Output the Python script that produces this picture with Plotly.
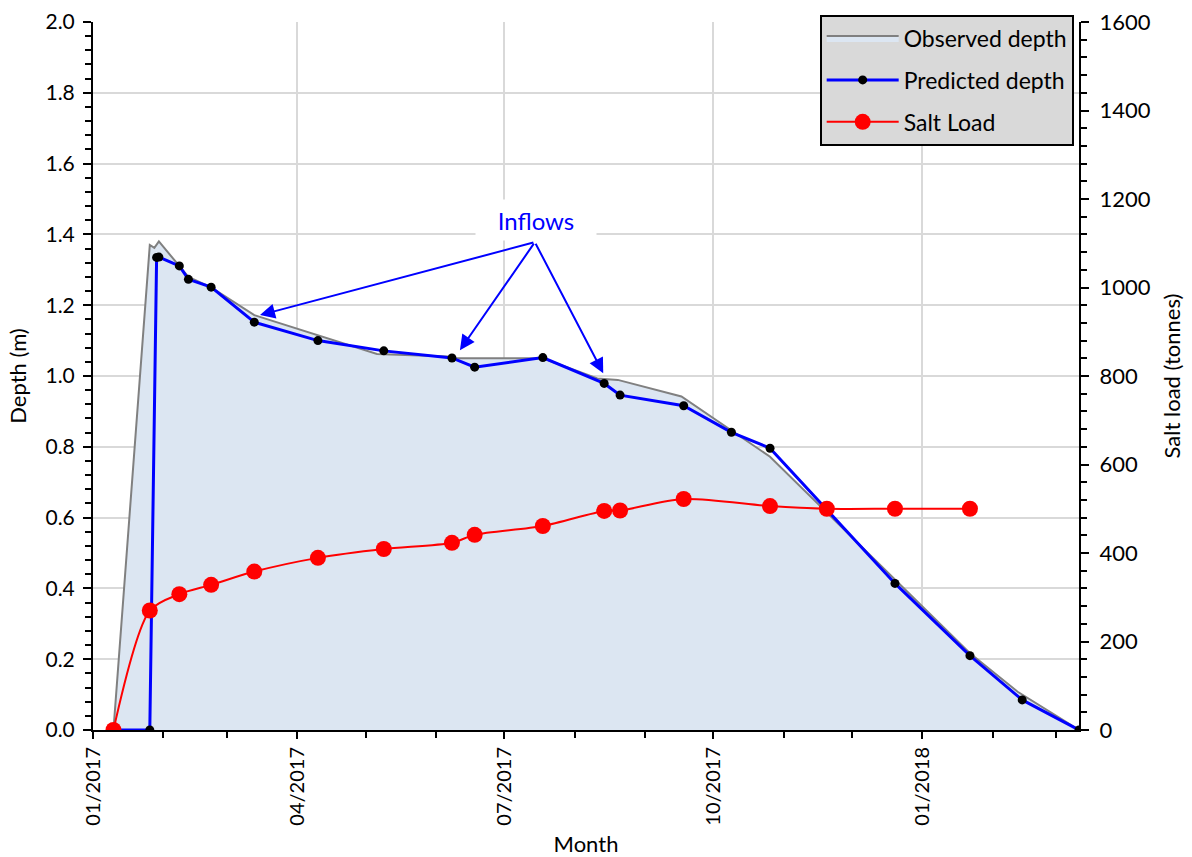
import plotly.graph_objects as go

# Observed water depth (m)
obs_dates = ["2017-01-10", "2017-01-26", "2017-01-28", "2017-01-30", "2017-02-12",
             "2017-02-22", "2017-03-13", "2017-05-06", "2017-06-06", "2017-06-08",
             "2017-07-18", "2017-08-11", "2017-08-20", "2017-09-17", "2017-10-26",
             "2018-01-22", "2018-02-12", "2018-03-11"]
obs_depth = [0.0, 1.370, 1.362, 1.380, 1.280, 1.250, 1.172, 1.062, 1.055, 1.050,
             1.050, 0.993, 0.989, 0.942, 0.772, 0.217, 0.108, 0.0]

# Predicted water depth (m)
pred_dates = ["2017-01-10", "2017-01-26", "2017-01-29", "2017-01-30", "2017-02-08",
              "2017-02-12", "2017-02-22", "2017-03-13", "2017-04-10", "2017-05-09",
              "2017-06-08", "2017-06-18", "2017-07-18", "2017-08-14", "2017-08-21",
              "2017-09-18", "2017-10-09", "2017-10-26", "2017-12-20", "2018-01-22",
              "2018-02-14", "2018-03-11"]
pred_depth = [0.0, 0.0, 1.335, 1.336, 1.311, 1.273, 1.251, 1.152, 1.100, 1.071,
              1.051, 1.025, 1.052, 0.979, 0.946, 0.916, 0.841, 0.796, 0.414, 0.210,
              0.085, 0.0]

# Salt load (tonnes)
salt_dates = ["2017-01-10", "2017-01-26", "2017-02-08", "2017-02-22", "2017-03-13",
              "2017-04-10", "2017-05-09", "2017-06-08", "2017-06-18", "2017-07-18",
              "2017-08-14", "2017-08-21", "2017-09-18", "2017-10-26", "2017-11-20",
              "2017-12-20", "2018-01-22"]
salt_load = [0, 270, 307, 328, 358, 389, 409, 423, 441, 461, 495, 496, 522, 506,
             500, 500, 500]

# "Inflows" callout: common arrow origin and the three inflow events it points to
inflow_label = ("2017-07-15", 1.44)
inflow_origin = ("2017-07-14 12:00", 1.378)
inflow_targets = [("2017-03-15 12:00", 1.172),
                  ("2017-06-11 12:00", 1.073),
                  ("2017-08-13 14:00", 1.008)]

FONT = "Lato"
BLUE = "#0000FF"

fig = go.Figure()

# observed series starts and ends at zero depth, so a closed polygon gives the
# shaded area
fig.add_trace(go.Scatter(
    x=obs_dates, y=obs_depth, name="Observed depth", mode="lines",
    line=dict(color="#808080", width=2), fill="toself", fillcolor="#DCE6F2",
    legendgroup="a"))

fig.add_trace(go.Scatter(
    x=pred_dates, y=pred_depth, name="Predicted depth", mode="lines+markers",
    line=dict(color=BLUE, width=3), marker=dict(color="black", size=9),
    legendgroup="b"))

fig.add_trace(go.Scatter(
    x=salt_dates, y=salt_load, name="Salt Load", mode="lines+markers", yaxis="y2",
    line=dict(color="#FF0000", width=2, shape="spline", smoothing=0.8),
    marker=dict(color="#FF0000", size=16), legendgroup="c"))

annotations = [dict(
    x=inflow_label[0], y=inflow_label[1], xref="x", yref="y", text="Inflows",
    showarrow=False, font=dict(family=FONT, size=24, color=BLUE),
    bgcolor="white", width=118, height=38)]
for tx, ty in inflow_targets:
    annotations.append(dict(
        x=tx, y=ty, xref="x", yref="y", ax=inflow_origin[0], ay=inflow_origin[1],
        axref="x", ayref="y", text="", showarrow=True, arrowhead=2,
        arrowsize=1.5, arrowwidth=2, arrowcolor=BLUE, standoff=0))

xtickfont = dict(family=FONT, size=20, color="black")
ytickfont = dict(family=FONT, size=21, color="black")
titlefont = dict(family=FONT, size=22, color="black")

fig.update_layout(
    width=1192, height=857,
    margin=dict(l=93, r=113, t=22, b=127),
    paper_bgcolor="white", plot_bgcolor="white",
    font=dict(family=FONT, color="black"),
    showlegend=True,
    legend=dict(
        x=0.737, y=1.0105, xanchor="left", yanchor="top",
        bgcolor="#D9D9D9", bordercolor="black", borderwidth=2,
        font=dict(family=FONT, size=23, color="black"),
        tracegroupgap=9, itemwidth=72),
    annotations=annotations,
    xaxis=dict(
        type="date", range=["2017-01-01", "2018-03-11"], automargin=False,
        tick0="2017-01-01", dtick="M3", tickformat="%m/%Y", tickangle=-90,
        ticks="outside", ticklen=7, tickwidth=2, tickcolor="black",
        showline=True, linecolor="black", linewidth=2,
        showgrid=True, gridcolor="#D9D9D9", gridwidth=2,
        tickfont=xtickfont,
        minor=dict(dtick="M1", ticks="outside", ticklen=6, tickwidth=2,
                   tickcolor="black", showgrid=False),
        title=dict(text="Month", font=titlefont, standoff=14),
        zeroline=False),
    yaxis=dict(
        range=[0, 2.0], dtick=0.2, tickformat=".1f", automargin=False,
        ticks="outside", ticklen=8, tickwidth=2, tickcolor="black",
        showline=True, linecolor="black", linewidth=2,
        showgrid=True, gridcolor="#D9D9D9", gridwidth=2,
        tickfont=ytickfont, ticklabelstandoff=4,
        minor=dict(dtick=0.04, ticks="outside", ticklen=6, tickwidth=2,
                   tickcolor="black", showgrid=False),
        title=dict(text="Depth (m)", font=titlefont, standoff=13),
        zeroline=False),
    yaxis2=dict(
        overlaying="y", side="right", range=[0, 1600], dtick=200,
        automargin=False,
        ticks="outside", ticklen=8, tickwidth=2, tickcolor="black",
        showline=True, linecolor="black", linewidth=2,
        showgrid=False, tickfont=dict(family=FONT, size=22, color="black"),
        ticklabelstandoff=6,
        minor=dict(dtick=40, ticks="outside", ticklen=6, tickwidth=2,
                   tickcolor="black"),
        title=dict(text="Salt load (tonnes)", font=titlefont, standoff=15),
        zeroline=False),
)

fig.write_html("out.html")
